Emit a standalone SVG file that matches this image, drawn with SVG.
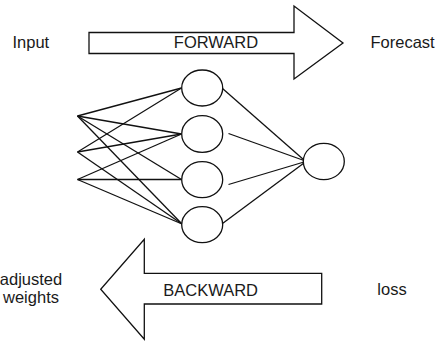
<svg xmlns="http://www.w3.org/2000/svg" width="437" height="342" viewBox="0 0 437 342">
<style>
.t{font-family:"Liberation Sans",Arial,sans-serif;font-size:16.5px;fill:#1a1a1a}
.s{fill:#fff;stroke:#111;stroke-width:1.3}
.c{stroke:#111;stroke-width:1.3;fill:none}
</style>
<rect width="437" height="342" fill="#fff"/>
<g id="forward">
<polygon class="s" points="89,32.5 294,32.5 294,6 343,43 294,79 294,53.5 89,53.5"/>
<text class="t" x="216" y="48.3" text-anchor="middle">FORWARD</text>
</g>
<g id="backward">
<polygon class="s" points="321.7,273.3 144.3,273.3 144.3,239.3 100.7,289.3 144.3,339.3 144.3,304 321.7,304"/>
<text class="t" x="163.3" y="295.5">BACKWARD</text>
</g>
<g id="label-input"><text class="t" x="12.5" y="48.3">Input</text></g>
<g id="label-forecast"><text class="t" x="370.5" y="48.3">Forecast</text></g>
<g id="label-weights"><text class="t" x="31" y="285" text-anchor="middle" font-size="16">adjusted</text><text class="t" x="31" y="302.5" text-anchor="middle" font-size="16">weights</text></g>
<g id="label-loss"><text class="t" x="377.3" y="295.3">loss</text></g>
<g id="connectors">
<line class="c" x1="77.5" y1="116" x2="181.5" y2="88"/>
<line class="c" x1="77.5" y1="116" x2="181.5" y2="134"/>
<line class="c" x1="77.5" y1="116" x2="181.5" y2="179.5"/>
<line class="c" x1="77.5" y1="116" x2="182" y2="224"/>
<line class="c" x1="77.5" y1="152" x2="181.5" y2="88"/>
<line class="c" x1="77.5" y1="152" x2="181.5" y2="134"/>
<line class="c" x1="77.5" y1="152" x2="182" y2="224"/>
<line class="c" x1="77.5" y1="179.5" x2="181.5" y2="134"/>
<line class="c" x1="77.5" y1="179.5" x2="181.5" y2="179.5"/>
<line class="c" x1="77.5" y1="179.5" x2="182" y2="224"/>
<line class="c" x1="222.5" y1="88.5" x2="304" y2="160"/>
<line class="c" x1="228.5" y1="133.5" x2="304" y2="160.5"/>
<line class="c" x1="228.5" y1="184.5" x2="304" y2="162"/>
<line class="c" x1="222.5" y1="223.5" x2="304" y2="163"/>
</g>
<g id="h1"><ellipse class="s" cx="202.2" cy="88" rx="20.5" ry="18"/></g>
<g id="h2"><ellipse class="s" cx="202.2" cy="134" rx="20.5" ry="18.3"/></g>
<g id="h3"><ellipse class="s" cx="202.2" cy="179.7" rx="20.5" ry="18"/></g>
<g id="h4"><ellipse class="s" cx="202.2" cy="224.7" rx="20.5" ry="18"/></g>
<g id="out"><ellipse class="s" cx="323.8" cy="161.5" rx="20.5" ry="18.2"/></g>
</svg>
